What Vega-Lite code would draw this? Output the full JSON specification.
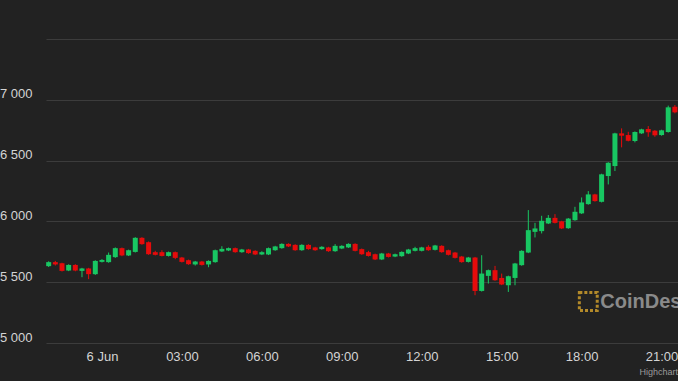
{
  "$schema": "https://vega.github.io/schema/vega-lite/v6.json",
  "width": 632,
  "height": 304,
  "autosize": {"type": "none"},
  "padding": {"left": 46, "top": 39, "right": 0, "bottom": 38},
  "background": "#222222",
  "config": {"view": {"stroke": null}, "font": "Liberation Sans"},
  "data": {"values": [
    {"t":"2021-06-05T22:00:00Z","o":35632,"h":35672,"l":35625,"c":35665},
    {"t":"2021-06-05T22:15:00Z","o":35665,"h":35675,"l":35637,"c":35646},
    {"t":"2021-06-05T22:30:00Z","o":35656,"h":35660,"l":35588,"c":35593},
    {"t":"2021-06-05T22:45:00Z","o":35596,"h":35647,"l":35591,"c":35642},
    {"t":"2021-06-05T23:00:00Z","o":35642,"h":35648,"l":35590,"c":35596},
    {"t":"2021-06-05T23:15:00Z","o":35593,"h":35618,"l":35541,"c":35613},
    {"t":"2021-06-05T23:30:00Z","o":35613,"h":35618,"l":35525,"c":35566},
    {"t":"2021-06-05T23:45:00Z","o":35566,"h":35680,"l":35560,"c":35675},
    {"t":"2021-06-06T00:00:00Z","o":35667,"h":35690,"l":35662,"c":35683},
    {"t":"2021-06-06T00:15:00Z","o":35665,"h":35744,"l":35660,"c":35725},
    {"t":"2021-06-06T00:30:00Z","o":35706,"h":35786,"l":35700,"c":35780},
    {"t":"2021-06-06T00:45:00Z","o":35780,"h":35785,"l":35714,"c":35720},
    {"t":"2021-06-06T01:00:00Z","o":35720,"h":35768,"l":35715,"c":35763},
    {"t":"2021-06-06T01:15:00Z","o":35749,"h":35870,"l":35744,"c":35865},
    {"t":"2021-06-06T01:30:00Z","o":35865,"h":35870,"l":35808,"c":35813},
    {"t":"2021-06-06T01:45:00Z","o":35829,"h":35835,"l":35725,"c":35730},
    {"t":"2021-06-06T02:00:00Z","o":35747,"h":35758,"l":35720,"c":35725},
    {"t":"2021-06-06T02:15:00Z","o":35747,"h":35763,"l":35712,"c":35716},
    {"t":"2021-06-06T02:30:00Z","o":35716,"h":35752,"l":35711,"c":35747},
    {"t":"2021-06-06T02:45:00Z","o":35747,"h":35752,"l":35689,"c":35700},
    {"t":"2021-06-06T03:00:00Z","o":35703,"h":35708,"l":35662,"c":35667},
    {"t":"2021-06-06T03:15:00Z","o":35681,"h":35686,"l":35643,"c":35648},
    {"t":"2021-06-06T03:30:00Z","o":35646,"h":35675,"l":35637,"c":35670},
    {"t":"2021-06-06T03:45:00Z","o":35670,"h":35675,"l":35637,"c":35642},
    {"t":"2021-06-06T04:00:00Z","o":35646,"h":35680,"l":35623,"c":35675},
    {"t":"2021-06-06T04:15:00Z","o":35665,"h":35768,"l":35660,"c":35763},
    {"t":"2021-06-06T04:30:00Z","o":35753,"h":35796,"l":35748,"c":35774},
    {"t":"2021-06-06T04:45:00Z","o":35761,"h":35785,"l":35756,"c":35780},
    {"t":"2021-06-06T05:00:00Z","o":35780,"h":35785,"l":35742,"c":35747},
    {"t":"2021-06-06T05:15:00Z","o":35747,"h":35774,"l":35742,"c":35769},
    {"t":"2021-06-06T05:30:00Z","o":35769,"h":35774,"l":35734,"c":35739},
    {"t":"2021-06-06T05:45:00Z","o":35758,"h":35763,"l":35723,"c":35728},
    {"t":"2021-06-06T06:00:00Z","o":35728,"h":35755,"l":35723,"c":35747},
    {"t":"2021-06-06T06:15:00Z","o":35728,"h":35785,"l":35723,"c":35780},
    {"t":"2021-06-06T06:30:00Z","o":35763,"h":35799,"l":35758,"c":35794},
    {"t":"2021-06-06T06:45:00Z","o":35780,"h":35820,"l":35775,"c":35815},
    {"t":"2021-06-06T07:00:00Z","o":35815,"h":35820,"l":35789,"c":35794},
    {"t":"2021-06-06T07:15:00Z","o":35807,"h":35812,"l":35758,"c":35763},
    {"t":"2021-06-06T07:30:00Z","o":35763,"h":35812,"l":35758,"c":35807},
    {"t":"2021-06-06T07:45:00Z","o":35807,"h":35812,"l":35767,"c":35772},
    {"t":"2021-06-06T08:00:00Z","o":35786,"h":35791,"l":35758,"c":35763},
    {"t":"2021-06-06T08:15:00Z","o":35772,"h":35796,"l":35767,"c":35791},
    {"t":"2021-06-06T08:30:00Z","o":35786,"h":35791,"l":35750,"c":35755},
    {"t":"2021-06-06T08:45:00Z","o":35755,"h":35813,"l":35750,"c":35799},
    {"t":"2021-06-06T09:00:00Z","o":35777,"h":35804,"l":35772,"c":35799},
    {"t":"2021-06-06T09:15:00Z","o":35786,"h":35820,"l":35781,"c":35815},
    {"t":"2021-06-06T09:30:00Z","o":35815,"h":35820,"l":35753,"c":35758},
    {"t":"2021-06-06T09:45:00Z","o":35772,"h":35777,"l":35725,"c":35730},
    {"t":"2021-06-06T10:00:00Z","o":35747,"h":35758,"l":35711,"c":35716},
    {"t":"2021-06-06T10:15:00Z","o":35730,"h":35735,"l":35682,"c":35687},
    {"t":"2021-06-06T10:30:00Z","o":35687,"h":35741,"l":35682,"c":35736},
    {"t":"2021-06-06T10:45:00Z","o":35736,"h":35741,"l":35703,"c":35708},
    {"t":"2021-06-06T11:00:00Z","o":35711,"h":35735,"l":35706,"c":35730},
    {"t":"2021-06-06T11:15:00Z","o":35714,"h":35754,"l":35709,"c":35749},
    {"t":"2021-06-06T11:30:00Z","o":35736,"h":35774,"l":35731,"c":35769},
    {"t":"2021-06-06T11:45:00Z","o":35758,"h":35791,"l":35753,"c":35780},
    {"t":"2021-06-06T12:00:00Z","o":35758,"h":35791,"l":35753,"c":35786},
    {"t":"2021-06-06T12:15:00Z","o":35791,"h":35804,"l":35758,"c":35763},
    {"t":"2021-06-06T12:30:00Z","o":35766,"h":35807,"l":35761,"c":35802},
    {"t":"2021-06-06T12:45:00Z","o":35799,"h":35804,"l":35742,"c":35747},
    {"t":"2021-06-06T13:00:00Z","o":35763,"h":35768,"l":35720,"c":35725},
    {"t":"2021-06-06T13:15:00Z","o":35744,"h":35749,"l":35695,"c":35700},
    {"t":"2021-06-06T13:30:00Z","o":35711,"h":35716,"l":35660,"c":35665},
    {"t":"2021-06-06T13:45:00Z","o":35667,"h":35708,"l":35662,"c":35703},
    {"t":"2021-06-06T14:00:00Z","o":35703,"h":35708,"l":35393,"c":35428},
    {"t":"2021-06-06T14:15:00Z","o":35428,"h":35722,"l":35423,"c":35571},
    {"t":"2021-06-06T14:30:00Z","o":35552,"h":35604,"l":35489,"c":35599},
    {"t":"2021-06-06T14:45:00Z","o":35599,"h":35634,"l":35511,"c":35516},
    {"t":"2021-06-06T15:00:00Z","o":35535,"h":35571,"l":35476,"c":35481},
    {"t":"2021-06-06T15:15:00Z","o":35475,"h":35554,"l":35420,"c":35549},
    {"t":"2021-06-06T15:30:00Z","o":35535,"h":35659,"l":35475,"c":35654},
    {"t":"2021-06-06T15:45:00Z","o":35640,"h":35763,"l":35635,"c":35758},
    {"t":"2021-06-06T16:00:00Z","o":35744,"h":36093,"l":35739,"c":35928},
    {"t":"2021-06-06T16:15:00Z","o":35914,"h":35988,"l":35868,"c":35942},
    {"t":"2021-06-06T16:30:00Z","o":35920,"h":36046,"l":35901,"c":36005},
    {"t":"2021-06-06T16:45:00Z","o":35983,"h":36052,"l":35978,"c":36029},
    {"t":"2021-06-06T17:00:00Z","o":36029,"h":36060,"l":35983,"c":35988},
    {"t":"2021-06-06T17:15:00Z","o":36000,"h":36005,"l":35937,"c":35942},
    {"t":"2021-06-06T17:30:00Z","o":35944,"h":36028,"l":35939,"c":36023},
    {"t":"2021-06-06T17:45:00Z","o":36010,"h":36120,"l":36005,"c":36079},
    {"t":"2021-06-06T18:00:00Z","o":36066,"h":36197,"l":36061,"c":36156},
    {"t":"2021-06-06T18:15:00Z","o":36142,"h":36249,"l":36137,"c":36222},
    {"t":"2021-06-06T18:30:00Z","o":36222,"h":36227,"l":36162,"c":36167},
    {"t":"2021-06-06T18:45:00Z","o":36161,"h":36392,"l":36156,"c":36387},
    {"t":"2021-06-06T19:00:00Z","o":36373,"h":36487,"l":36304,"c":36482},
    {"t":"2021-06-06T19:15:00Z","o":36455,"h":36729,"l":36414,"c":36724},
    {"t":"2021-06-06T19:30:00Z","o":36724,"h":36765,"l":36609,"c":36705},
    {"t":"2021-06-06T19:45:00Z","o":36710,"h":36737,"l":36658,"c":36663},
    {"t":"2021-06-06T20:00:00Z","o":36661,"h":36740,"l":36650,"c":36735},
    {"t":"2021-06-06T20:15:00Z","o":36724,"h":36762,"l":36719,"c":36757},
    {"t":"2021-06-06T20:30:00Z","o":36760,"h":36784,"l":36696,"c":36733},
    {"t":"2021-06-06T20:45:00Z","o":36746,"h":36751,"l":36696,"c":36708},
    {"t":"2021-06-06T21:00:00Z","o":36710,"h":36754,"l":36705,"c":36749},
    {"t":"2021-06-06T21:15:00Z","o":36735,"h":36952,"l":36730,"c":36938},
    {"t":"2021-06-06T21:30:00Z","o":36943,"h":36957,"l":36889,"c":36897}
  ]},
  "layer": [
    {
      "mark": {"type": "rule", "strokeWidth": 1},
      "encoding": {
        "x": {
          "field": "t", "type": "temporal",
          "scale": {"type": "utc", "padding": 0, "domain": [
            {"year": 2021, "month": 6, "date": 5, "hours": 21, "minutes": 54, "utc": true},
            {"year": 2021, "month": 6, "date": 6, "hours": 21, "minutes": 37, "utc": true}
          ]},
          "axis": {
            "values": [
              {"year": 2021, "month": 6, "date": 6, "hours": 0, "utc": true},
              {"year": 2021, "month": 6, "date": 6, "hours": 3, "utc": true},
              {"year": 2021, "month": 6, "date": 6, "hours": 6, "utc": true},
              {"year": 2021, "month": 6, "date": 6, "hours": 9, "utc": true},
              {"year": 2021, "month": 6, "date": 6, "hours": 12, "utc": true},
              {"year": 2021, "month": 6, "date": 6, "hours": 15, "utc": true},
              {"year": 2021, "month": 6, "date": 6, "hours": 18, "utc": true},
              {"year": 2021, "month": 6, "date": 6, "hours": 21, "utc": true}
            ],
            "labelExpr": "utchours(datum.value) == 0 ? utcFormat(datum.value, '%-d %b') : utcFormat(datum.value, '%H:%M')",
            "grid": false, "domain": false, "ticks": false,
            "labelFlush": false, "labelOverlap": false, "labelBound": false,
            "labelColor": "#d4d4d4", "labelFontSize": 13, "labelPadding": 7,
            "title": "Highcharts.com", "titleFontSize": 9, "titleFontWeight": "normal",
            "titleColor": "#9a9a9a", "titleAlign": "left", "titleBaseline": "middle",
            "titleX": 593, "titleY": 28
          }
        },
        "y": {
          "field": "l", "type": "quantitative",
          "scale": {"domain": [35000, 37500], "zero": false, "nice": false},
          "axis": {
            "values": [35000, 35500, 36000, 36500, 37000, 37500],
            "labelExpr": "datum.value >= 37500 ? '' : replace(format(datum.value % 10000, ','), ',', ' ')",
            "grid": true, "gridColor": "#3c3c3c", "gridWidth": 1,
            "domain": false, "ticks": false, "labelFlush": false,
            "labelColor": "#d4d4d4", "labelFontSize": 13, "labelPadding": 14,
            "labelOffset": -6, "title": null
          }
        },
        "y2": {"field": "h"},
        "color": {"condition": {"test": "datum.c >= datum.o", "value": "#18c762"}, "value": "#e60b0b"}
      }
    },
    {
      "mark": {"type": "bar", "size": 5},
      "encoding": {
        "x": {"field": "t", "type": "temporal"},
        "y": {"field": "o", "type": "quantitative"},
        "y2": {"field": "c"},
        "color": {"condition": {"test": "datum.c >= datum.o", "value": "#18c762"}, "value": "#e60b0b"}
      }
    },
    {
      "data": {"values": [{"label": "CoinDesk"}]},
      "mark": {"type": "text", "align": "left", "baseline": "middle", "fontSize": 20, "fontWeight": "bold", "color": "#8a8a8a", "clip": false},
      "encoding": {
        "x": {"datum": {"year": 2021, "month": 6, "date": 6, "hours": 18, "minutes": 42, "utc": true}, "type": "temporal"},
        "y": {"datum": 35338, "type": "quantitative"},
        "text": {"field": "label"}
      }
    },
    {
      "data": {"values": [{"label": "logo"}]},
      "mark": {"type": "point", "shape": "square", "filled": false, "size": 320, "strokeWidth": 3, "strokeDash": [3, 2], "color": "#b38a2a", "opacity": 1},
      "encoding": {
        "x": {"datum": {"year": 2021, "month": 6, "date": 6, "hours": 18, "minutes": 15, "utc": true}, "type": "temporal"},
        "y": {"datum": 35341, "type": "quantitative"}
      }
    }
  ]
}
